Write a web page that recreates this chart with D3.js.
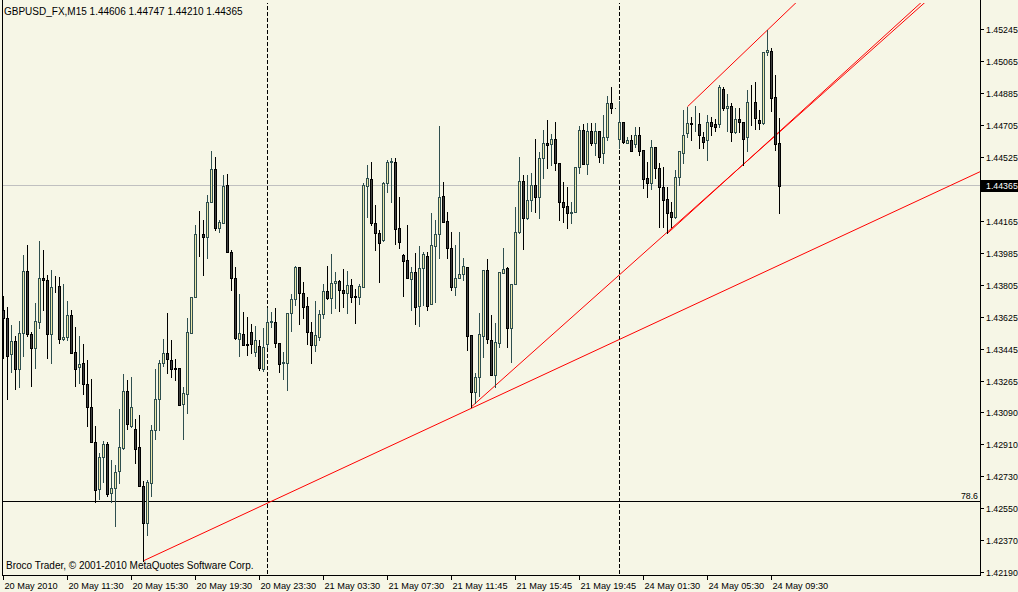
<!DOCTYPE html>
<html><head><meta charset="utf-8">
<script src="https://cdn.jsdelivr.net/npm/d3@7/dist/d3.min.js"></script>
<style>
html,body{margin:0;padding:0;background:#F6F6E6;}
svg{display:block;}
text{font-family:"Liberation Sans",Arial,sans-serif;}
</style></head><body>
<svg id="c" width="1018" height="592"></svg>
<script>
const symbolTitle = "GBPUSD_FX,M15  1.44606 1.44747 1.44210 1.44365";
const copyright = "Broco Trader, \u00A9 2001-2010 MetaQuotes Software Corp.";

const opens = [1.43667,1.43620,1.43418,1.43493,1.43334,1.43536,1.43886,1.43532,1.43455,1.43598,
1.43845,1.43834,1.43530,1.43798,1.43800,1.43502,1.43513,1.43637,1.43429,1.43345,
1.43367,1.43251,1.43120,1.42923,1.42659,1.42839,1.42912,1.42636,1.42668,1.42760,
1.42893,1.43210,1.43016,1.42996,1.42895,1.42679,1.42468,1.42693,1.42992,1.43165,
1.43367,1.43423,1.43386,1.43339,1.43339,1.43137,1.43193,1.43539,1.43738,1.44096,
1.44093,1.44076,1.44276,1.44458,1.44130,1.44158,1.44370,1.43991,1.43845,1.43504,
1.43530,1.43476,1.43545,1.43432,1.43466,1.43334,1.43474,1.43599,1.43601,1.43480,
1.43367,1.43367,1.43648,1.43730,1.43907,1.43761,1.43689,1.43542,1.43468,1.43517,
1.43644,1.43772,1.43736,1.43817,1.43828,1.43778,1.43761,1.43806,1.43746,1.43738,
1.43798,1.44366,1.44402,1.44154,1.44098,1.44060,1.44379,1.44497,1.44497,1.44126,
1.43976,1.43948,1.43840,1.43882,1.43691,1.43905,1.43971,1.43701,1.44028,1.44094,
1.44308,1.44167,1.44014,1.43798,1.43845,1.43869,1.43910,1.43526,1.43208,1.43289,
1.43522,1.43892,1.43498,1.43301,1.43480,1.43877,1.43901,1.43567,1.43811,1.44107,
1.44392,1.44182,1.44285,1.44368,1.44301,1.44520,1.44604,1.44598,1.44627,1.44492,
1.44276,1.44252,1.44211,1.44216,1.44469,1.44679,1.44486,1.44673,1.44604,1.44673,
1.44548,1.44638,1.44829,1.44801,1.44627,1.44722,1.44607,1.44623,1.44598,1.44651,
1.44566,1.44407,1.44379,1.44582,1.44464,1.44357,1.44289,1.44218,1.44188,1.44413,
1.44548,1.44660,1.44718,1.44717,1.44713,1.44640,1.44623,1.44722,1.44711,1.44711,
1.44908,1.44801,1.44814,1.44669,1.44741,1.44722,1.44638,1.44836,1.44835,1.44735,
1.44717,1.45116,1.45123,1.44863,1.44606];

const highs = [1.43746,1.43682,1.43583,1.43522,1.43605,1.43976,1.44032,1.43545,1.43705,1.44055,
1.44004,1.43864,1.43892,1.43860,1.43854,1.43813,1.43719,1.43667,1.43573,1.43521,
1.43476,1.43386,1.43279,1.43015,1.42865,1.42930,1.42925,1.42824,1.42796,1.43110,
1.43307,1.43273,1.43292,1.43054,1.43077,1.42707,1.42711,1.43020,1.43334,1.43386,
1.43502,1.43648,1.43498,1.43390,1.43339,1.43236,1.43620,1.43742,1.44145,1.44224,
1.44173,1.44313,1.44561,1.44529,1.44173,1.44426,1.44430,1.44004,1.43910,1.43755,
1.43657,1.43629,1.43587,1.43579,1.43498,1.43564,1.43676,1.43657,1.43676,1.43480,
1.43429,1.43648,1.43757,1.43914,1.43910,1.43823,1.43738,1.43598,1.43719,1.43667,
1.43813,1.43914,1.43980,1.43879,1.43836,1.43896,1.43886,1.43840,1.43783,1.43813,
1.44379,1.44482,1.44501,1.44257,1.44117,1.44388,1.44510,1.44520,1.44520,1.44304,
1.43980,1.44145,1.43910,1.43986,1.44028,1.43995,1.43995,1.44211,1.44173,1.44701,
1.44388,1.44220,1.44107,1.44032,1.44104,1.43958,1.43910,1.43526,1.43311,1.43648,
1.43892,1.43952,1.43639,1.43596,1.43879,1.44014,1.43910,1.43811,1.44244,1.44525,
1.44426,1.44426,1.44439,1.44627,1.44557,1.44679,1.44735,1.44656,1.44726,1.44492,
1.44388,1.44357,1.44276,1.44469,1.44701,1.44711,1.44717,1.44717,1.44717,1.44673,
1.44763,1.44870,1.44922,1.44801,1.44842,1.44726,1.44641,1.44651,1.44697,1.44697,
1.44566,1.44501,1.44623,1.44582,1.44492,1.44473,1.44360,1.44276,1.44454,1.44561,
1.44791,1.44810,1.44754,1.44814,1.44773,1.44669,1.44763,1.44754,1.44739,1.44932,
1.44919,1.44880,1.44832,1.44801,1.44801,1.44726,1.44904,1.44932,1.44947,1.44791,
1.45119,1.45241,1.45138,1.44988,1.44747];

const lows = [1.43395,1.43165,1.43320,1.43224,1.43232,1.43410,1.43521,1.43241,1.43343,1.43567,
1.43667,1.43395,1.43371,1.43770,1.43483,1.43498,1.43498,1.43423,1.43241,1.43255,
1.43193,1.43016,1.42923,1.42589,1.42603,1.42702,1.42623,1.42589,1.42453,1.42693,
1.42885,1.42996,1.43011,1.42805,1.42679,1.42257,1.42402,1.42621,1.42940,1.42992,
1.43352,1.43311,1.43292,1.43273,1.43133,1.42940,1.43090,1.43536,1.43738,1.43972,
1.43864,1.43961,1.44276,1.44117,1.44107,1.44158,1.43991,1.43779,1.43504,1.43410,
1.43470,1.43414,1.43423,1.43408,1.43330,1.43326,1.43461,1.43573,1.43457,1.43320,
1.43281,1.43217,1.43551,1.43697,1.43587,1.43620,1.43474,1.43367,1.43438,1.43498,
1.43624,1.43729,1.43648,1.43676,1.43663,1.43685,1.43648,1.43714,1.43596,1.43699,
1.43795,1.44191,1.44145,1.44004,1.43826,1.44057,1.44332,1.44276,1.44036,1.44014,
1.43747,1.43845,1.43667,1.43588,1.43577,1.43695,1.43667,1.43701,1.43714,1.43961,
1.44163,1.43961,1.43779,1.43751,1.43845,1.43836,1.43442,1.43123,1.43142,1.43183,
1.43404,1.43480,1.43301,1.43236,1.43457,1.43877,1.43461,1.43376,1.43811,1.44098,
1.44010,1.44179,1.44225,1.44220,1.44182,1.44407,1.44464,1.44482,1.44454,1.44173,
1.44163,1.44126,1.44158,1.44216,1.44435,1.44486,1.44432,1.44595,1.44538,1.44497,
1.44492,1.44623,1.44773,1.44801,1.44576,1.44604,1.44604,1.44563,1.44585,1.44538,
1.44351,1.44301,1.44347,1.44407,1.44135,1.44135,1.44098,1.44135,1.44182,1.44370,
1.44492,1.44641,1.44623,1.44675,1.44576,1.44576,1.44510,1.44651,1.44675,1.44697,
1.44791,1.44673,1.44617,1.44660,1.44669,1.44482,1.44563,1.44707,1.44683,1.44683,
1.44713,1.45101,1.44787,1.44566,1.44210];

const closes = [1.43620,1.43410,1.43493,1.43334,1.43536,1.43886,1.43530,1.43452,1.43605,1.43845,
1.43834,1.43530,1.43795,1.43795,1.43502,1.43513,1.43637,1.43423,1.43337,1.43362,
1.43251,1.43120,1.42923,1.42655,1.42839,1.42912,1.42631,1.42668,1.42754,1.42895,
1.43210,1.43024,1.43123,1.42884,1.42679,1.42468,1.42698,1.42992,1.43167,1.43367,
1.43423,1.43393,1.43337,1.43335,1.43133,1.43199,1.43545,1.43738,1.44094,1.44093,
1.44076,1.44276,1.44458,1.44130,1.44160,1.44364,1.43991,1.43845,1.43508,1.43536,
1.43470,1.43472,1.43476,1.43498,1.43339,1.43461,1.43601,1.43603,1.43480,1.43362,
1.43373,1.43648,1.43730,1.43907,1.43761,1.43685,1.43542,1.43468,1.43525,1.43644,
1.43772,1.43736,1.43817,1.43828,1.43778,1.43761,1.43806,1.43742,1.43738,1.43802,
1.44370,1.44407,1.44154,1.44098,1.44045,1.44379,1.44497,1.44505,1.44121,1.44051,
1.43944,1.43845,1.43882,1.43685,1.43901,1.43980,1.43691,1.44031,1.44093,1.44304,
1.44163,1.44017,1.43798,1.43845,1.43869,1.43914,1.43522,1.43208,1.43292,1.43530,
1.43892,1.43502,1.43301,1.43485,1.43879,1.43896,1.43567,1.43811,1.44104,1.44392,
1.44182,1.44285,1.44368,1.44304,1.44520,1.44604,1.44595,1.44627,1.44492,1.44276,
1.44248,1.44211,1.44216,1.44469,1.44679,1.44486,1.44673,1.44604,1.44673,1.44525,
1.44638,1.44829,1.44801,1.44801,1.44722,1.44610,1.44623,1.44563,1.44651,1.44563,
1.44402,1.44383,1.44582,1.44464,1.44357,1.44285,1.44211,1.44191,1.44413,1.44561,
1.44651,1.44717,1.44715,1.44717,1.44651,1.44610,1.44722,1.44703,1.44697,1.44919,
1.44801,1.44814,1.44669,1.44741,1.44722,1.44627,1.44835,1.44835,1.44745,1.44717,
1.45119,1.45129,1.44860,1.44600,1.44365];

const timeTickBars = [0,16,32,48,64,80,96,112,128,144,160,176,192];
const timeTickLabels = ["20 May 2010","20 May 11:30","20 May 15:30","20 May 19:30","20 May 23:30",
  "21 May 03:30","21 May 07:30","21 May 11:45","21 May 15:45","21 May 19:45",
  "24 May 01:30","24 May 05:30","24 May 09:30"];
// 1.44345 sits under the bid label, so only its tick mark is drawn
const priceTicks = [1.45245,1.45065,1.44885,1.44705,1.44525,1.44345,1.44165,1.43985,1.43805,
  1.43625,1.43445,1.43265,1.43090,1.42910,1.42730,1.42550,1.42370,1.42190];
const bidPrice = 1.44365;
const fiboPrice = 1.42588;
const fiboLabel = "78.6";
const separatorBars = [66,154];

// trend lines: start bar/price, second anchor bar/price (rays to the right)
const trendStartBar   = [35, 117, 166, 171];
const trendStartPrice = [1.42257, 1.43123, 1.44098, 1.44810];
const trendEndBar     = [244, 230, 229, 191];
const trendEndPrice   = [1.44443, 1.45389, 1.45387, 1.45241];

const W = 1018, H = 592;
const plotL = 2, plotR = 981, plotT = 0, plotB = 575;
const svg = d3.select("#c");
svg.append("rect").attr("width",W).attr("height",H).attr("fill","#F6F6E6");

const x = d3.scaleLinear().domain([0,194]).range([3.5,779.5]);
const y = d3.scaleLinear().domain([1.42190,1.45245]).range([572.7,29.3]);
const snap = v => Math.round(v - 0.5) + 0.5;

svg.append("defs").append("clipPath").attr("id","plot")
  .append("rect").attr("x",plotL+1).attr("y",3).attr("width",plotR-plotL-1).attr("height",plotB-3);

const g = svg.append("g").attr("clip-path","url(#plot)");

// separators
g.selectAll("line.sep").data(separatorBars).join("line")
  .attr("x1",d=>snap(x(d))).attr("x2",d=>snap(x(d)))
  .attr("y1",0).attr("y2",plotB)
  .attr("stroke","#000").attr("stroke-width",1).attr("stroke-dasharray","4,2");

// bid line
g.append("line").attr("x1",plotL).attr("x2",plotR)
  .attr("y1",snap(y(bidPrice))).attr("y2",snap(y(bidPrice)))
  .attr("stroke","#C0C0C0");

// fibo level
g.append("line").attr("x1",plotL).attr("x2",plotR)
  .attr("y1",snap(y(fiboPrice))).attr("y2",snap(y(fiboPrice)))
  .attr("stroke","#000");
svg.append("text").attr("x",978).attr("y",snap(y(fiboPrice))-3)
  .attr("text-anchor","end").attr("font-size","8.8px").attr("fill","#000").text(fiboLabel);

// trend lines (extended as rays)
const extBar = 262;
trendStartBar.forEach((b0,k)=>{
  const p0 = trendStartPrice[k], b1 = trendEndBar[k], p1 = trendEndPrice[k];
  const slope = (p1-p0)/(b1-b0);
  const pe = p0 + slope*(extBar-b0);
  g.append("line").attr("x1",x(b0)).attr("y1",y(p0)).attr("x2",x(extBar)).attr("y2",y(pe))
    .attr("stroke","#FF0000").attr("stroke-width",1);
});

// candles
const idx = d3.range(opens.length);
const up = i => closes[i] >= opens[i];
g.selectAll("line.wick").data(idx).join("line")
  .attr("x1",i=>snap(x(i))).attr("x2",i=>snap(x(i)))
  .attr("y1",i=>Math.round(y(highs[i]))).attr("y2",i=>Math.round(y(lows[i]))+1)
  .attr("stroke",i=>up(i)?"#2F4F4F":"#000").attr("stroke-width",1);
g.selectAll("rect.body").data(idx).join("rect")
  .attr("x",i=>snap(x(i))-1)
  .attr("y",i=>Math.round(y(Math.max(opens[i],closes[i])))+0.5)
  .attr("width",2)
  .attr("height",i=>Math.max(0,Math.round(y(Math.min(opens[i],closes[i])))-Math.round(y(Math.max(opens[i],closes[i])))))
  .attr("fill",i=>up(i)?"#EEE8AA":"#404040")
  .attr("stroke",i=>up(i)?"#2F4F4F":"#000").attr("stroke-width",1);

// frame
svg.append("line").attr("x1",plotL+0.5).attr("x2",plotL+0.5).attr("y1",0).attr("y2",plotB+0.5).attr("stroke","#000");
svg.append("line").attr("x1",plotR-0.5).attr("x2",plotR-0.5).attr("y1",0).attr("y2",plotB+0.5).attr("stroke","#000");
svg.append("line").attr("x1",plotL).attr("x2",plotR).attr("y1",plotB+0.5).attr("y2",plotB+0.5).attr("stroke","#000");

// price axis
const by = y(bidPrice);
const visibleTicks = priceTicks.filter(d => Math.abs(y(d)-by) > 8);
const pa = svg.append("g");
pa.selectAll("line").data(priceTicks).join("line")
  .attr("x1",plotR).attr("x2",plotR+3).attr("y1",d=>snap(y(d))).attr("y2",d=>snap(y(d))).attr("stroke","#000");
pa.selectAll("text").data(visibleTicks).join("text")
  .attr("x",986).attr("y",d=>y(d)+3.3).attr("font-size","8.8px").attr("fill","#000")
  .text(d=>d.toFixed(5));

// bid label
svg.append("rect").attr("x",plotR).attr("y",Math.round(by)-6).attr("width",W-plotR).attr("height",12).attr("fill","#000");
svg.append("text").attr("x",986).attr("y",by+3.3).attr("font-size","8.8px").attr("fill","#fff").text(bidPrice.toFixed(5));

// time axis
const ta = svg.append("g");
ta.selectAll("line").data(timeTickBars).join("line")
  .attr("x1",d=>snap(x(d))).attr("x2",d=>snap(x(d))).attr("y1",plotB).attr("y2",plotB+5).attr("stroke","#000");
ta.selectAll("text").data(timeTickBars).join("text")
  .attr("x",d=>snap(x(d))+1).attr("y",588.5).attr("font-size","9.2px").attr("fill","#000")
  .text((d,i)=>timeTickLabels[i]);

// titles
svg.append("text").attr("x",4).attr("y",15).attr("font-size","10px").attr("fill","#000").text(symbolTitle);
svg.append("text").attr("x",6).attr("y",569).attr("font-size","10px").attr("fill","#000").text(copyright);
</script>
</body></html>
